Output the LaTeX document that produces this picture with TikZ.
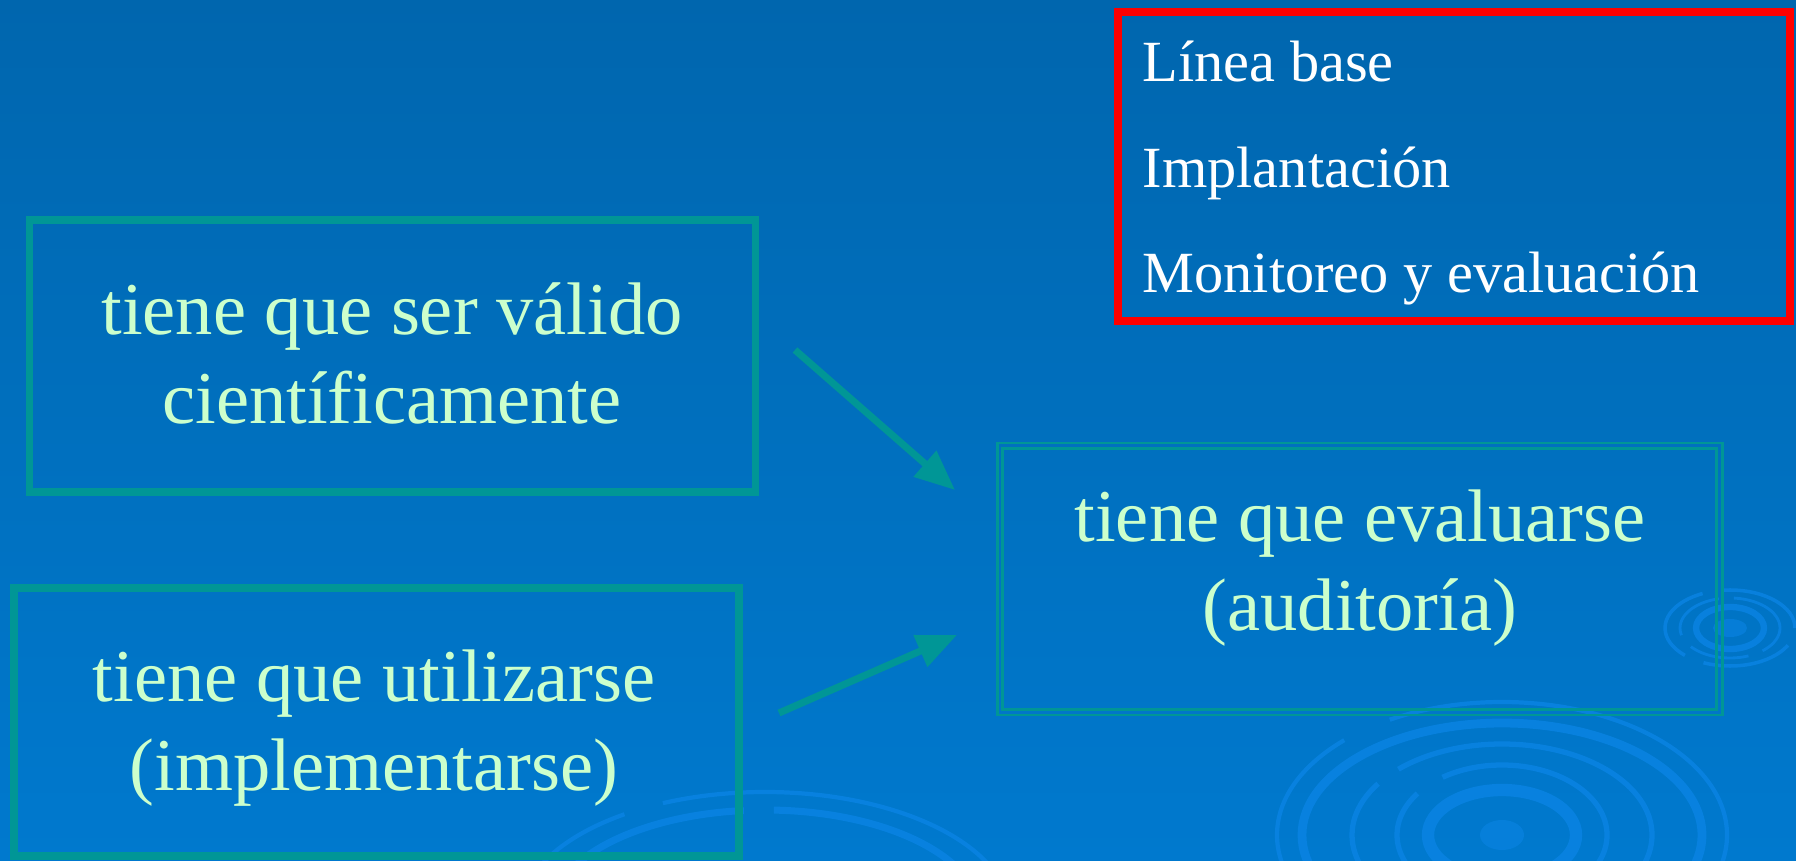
\documentclass[tikz,border=0pt]{standalone}
\usepackage{fontspec}
\setmainfont{Liberation Serif}
\usetikzlibrary{positioning, arrows.meta}
\definecolor{fondoarriba}{RGB}{0,102,174}
\definecolor{fondoabajo}{RGB}{0,121,206}
\definecolor{verdeazul}{RGB}{0,150,150}
\definecolor{textoverde}{RGB}{204,255,204}
\definecolor{ondaazul}{RGB}{10,132,228}

\begin{document}
\begin{tikzpicture}[>={Triangle[length=4mm,width=3.3mm]}]
    \tikzstyle{caja}=[draw=verdeazul,line width=2pt,inner sep=0pt]
    \tikzstyle{marco}=[draw=verdeazul,line width=0.85pt,inner sep=0pt]
    \tikzstyle{texto}=[text=textoverde,align=center,inner sep=0pt,font=\fontsize{21.2}{25.3}\selectfont]
    \tikzstyle{lista}=[text=white,anchor=base west,inner sep=0pt,font=\fontsize{16.6}{20}\selectfont]
    \tikzstyle{flecha}=[->,draw=verdeazul,line width=2pt]
    \tikzstyle{onda}=[draw=ondaazul,opacity=0.8]

    \useasboundingbox (0,0) rectangle (17.96,8.6);
    \shade[top color=fondoarriba,bottom color=fondoabajo] (0,0) rectangle (17.96,8.6);

    % ondas del fondo
    \begin{scope}
        \clip (0,0) rectangle (17.96,8.6);
        \fill[ondaazul,opacity=0.6] (15.02,0.25) ellipse (0.22 and 0.15);
        \draw[onda,line width=3.5pt] (15.02,0.25) ellipse (0.74 and 0.45);
        \draw[onda,line width=1.5pt,dash pattern=on 2cm off 0.3cm] (15.02,0.25) ellipse (1.05 and 0.7);
        \draw[onda,line width=1.5pt,dash pattern=on 3cm off 0.25cm] (15.02,0.25) ellipse (1.5 and 0.91);
        \draw[onda,line width=2.5pt] (15.02,0.25) ellipse (2.0 and 1.12);
        \draw[onda,line width=1.2pt,dash pattern=on 4cm off 0.5cm] (15.02,0.25) ellipse (2.25 and 1.33);

        \fill[ondaazul,opacity=0.6] (17.30,2.32) ellipse (0.17 and 0.09);
        \draw[onda,line width=1.8pt] (17.30,2.32) ellipse (0.34 and 0.21);
        \draw[onda,line width=0.8pt,dash pattern=on 0.6cm off 0.15cm] (17.30,2.32) ellipse (0.5 and 0.3);
        \draw[onda,line width=1pt,dash pattern=on 0.9cm off 0.2cm] (17.30,2.32) ellipse (0.65 and 0.38);

        \draw[onda,line width=1.2pt,dash pattern=on 4cm off 0.4cm] (7.65,-0.55) ellipse (2.45 and 1.23);
        \draw[onda,line width=2pt,dash pattern=on 2.5cm off 0.3cm] (7.65,-0.55) ellipse (2.15 and 1.05);
    \end{scope}

    \node[caja,minimum width=7.26cm,minimum height=2.72cm] (valido) at (3.925,5.04) {};
    \node[texto] (validotxt) at (3.92,5.065) {tiene que ser válido\\científicamente};

    \node[caja,minimum width=7.25cm,minimum height=2.68cm] (utilizar) at (3.765,1.38) {};
    \node[texto] (utilizartxt) at (3.74,1.32) {tiene que utilizarse\\(implementarse)};

    \node[marco,minimum width=7.25cm,minimum height=2.72cm] (evaluar) at (13.595,2.81) {};
    \draw[marco] ([shift={(0.07,-0.07)}]evaluar.north west) rectangle ([shift={(-0.07,0.07)}]evaluar.south east);
    \node[texto] (evaluartxt) at (13.6,2.92) {tiene que evaluarse\\(auditoría)};

    \node[draw=red,line width=2.3pt,inner sep=0pt,minimum width=6.72cm,minimum height=3.09cm] (fases) at (14.54,6.935) {};
    \node[lista] (linea) at (11.42,7.78) {Línea base};
    \node[lista,below=1.055cm of linea.base west,anchor=base west] (implant) {Implantación};
    \node[lista,below=1.055cm of implant.base west,anchor=base west] (monitoreo) {Monitoreo y evaluación};

    \coordinate (v-sale) at (7.95,5.10);
    \coordinate (e-entra1) at (9.55,3.70);
    \coordinate (u-sale) at (7.79,1.47);
    \coordinate (e-entra2) at (9.57,2.25);
    \draw[flecha] (v-sale) -- (e-entra1);
    \draw[flecha] (u-sale) -- (e-entra2);
\end{tikzpicture}
\end{document}
